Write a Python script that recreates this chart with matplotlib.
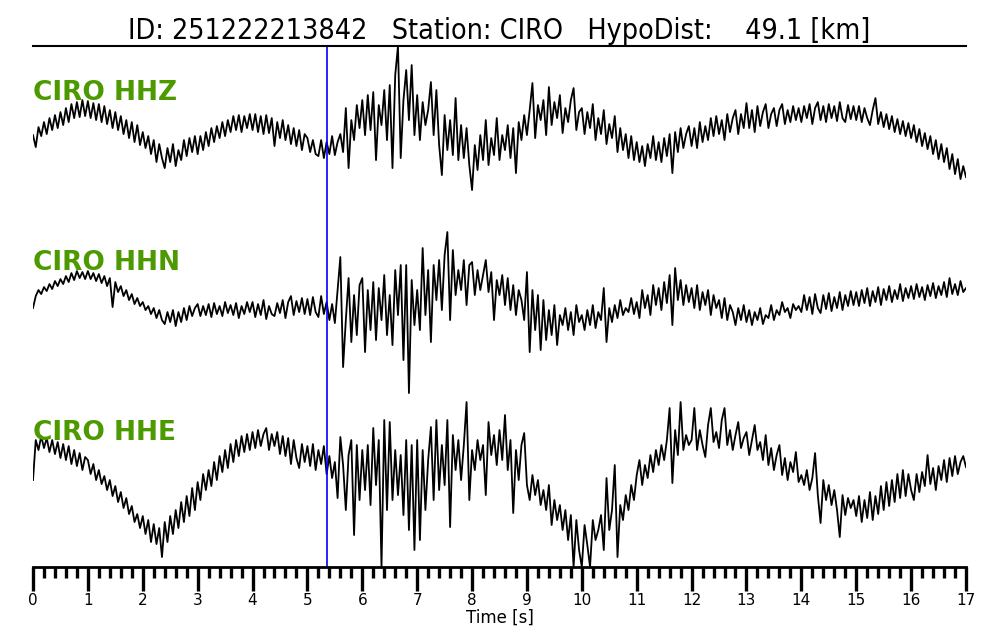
import numpy as np
import matplotlib
matplotlib.use('Agg')
import matplotlib.pyplot as plt
from matplotlib.ticker import MultipleLocator
import matplotlib.transforms as mtransforms

# event info
event_id = '251222213842'
station = 'CIRO'
hypo_dist = 49.1
p_pick = 5.36   # s
dt = 0.05
channels = ['HHZ', 'HHN', 'HHE']

# traces (arbitrary units, 0 = trace baseline)
hhz = [
    -5, -17, 3, -6, 8, -4, 12, 0, 15, 2, 18, 5, 22, 8, 26, 12, 28, 13, 30, 14,
    29, 12, 27, 10, 26, 8, 24, 6, 20, 2, 18, 0, 14, -4, 10, -8, 8, -12, 5, -15,
    -2, -18, -6, -24, -10, -32, -14, -28, -38, -18, -32, -14, -36, -20, -30, -10, -26, -8, -22, -6,
    -24, -6, -20, -2, -16, 2, -12, 4, -8, 8, -6, 10, -2, 14, 0, 15, -2, 14, 2, 16,
    0, 16, -2, 14, -4, 15, -3, 12, -16, 8, -8, 10, -10, 5, -14, 2, -16, 0, -20, -4,
    -8, -22, -10, -24, -26, -10, -28, -12, -24, -6, -25, -12, -4, -22, 22, -38, 10, -10, 25, 2,
    30, -5, 35, 0, 38, -30, 25, 5, 40, -10, 45, -38, 55, 84, -28, 30, 60, 10, 65, -5,
    35, -10, 28, 5, 20, 48, -5, 40, -15, -45, 15, -20, 10, -25, 32, -30, 5, -28, 2, -35,
    -60, -15, -40, -5, -30, 10, -35, -8, -25, 12, -30, -5, -20, 5, -28, 2, -43, 8, -10, 15,
    -5, 20, 47, -8, 25, 10, 30, -5, 43, 5, 28, 12, 35, -3, 22, 8, 30, 42, 0, 18,
    22, -4, 18, 2, 26, -10, 12, -4, 20, -14, 6, -8, 14, -22, 2, -20, -4, -28, -6, -30,
    -12, -32, -16, -36, -14, -28, -6, -30, -12, -32, -8, -26, -4, -43, -2, -22, 2, -18, -4, 4,
    -16, 2, -18, 8, -12, 4, -10, 12, -6, 14, -4, 10, -10, 16, -2, 12, 20, -4, 16, 2,
    27, 2, 20, -2, 24, 4, 18, 26, 2, 16, 22, 4, 20, 26, 6, 20, 8, 24, 10, 22,
    8, 24, 12, 26, 6, 22, 28, 10, 24, 8, 26, 12, 24, 9, 28, 12, 8, 25, 11, 24,
    10, 24, 8, 22, 12, 5, 20, 32, 6, 18, 3, 16, 1, 14, -2, 11, -4, 9, -6, 7,
    -8, 5, -12, 1, -16, -3, -19, -6, -24, -10, -29, -14, -32, -18, -39, -24, -44, -29, -49, -36,
    -47,
]
hhn = [
    -8, 4, 10, 6, 13, 9, 16, 11, 19, 14, 21, 16, 24, 18, 27, 20, 29, 22, 28, 21,
    29, 21, 27, 19, 26, 17, 24, 14, 22, -7, 18, 8, 14, 4, 10, 0, 6, -4, 2, -6,
    -2, -10, -6, -14, -8, -18, -10, -20, -24, -12, -22, -10, -26, -12, -22, -8, -20, -6, -16, -8,
    -4, -16, -6, -15, -4, -17, -3, -14, -6, -16, -2, -13, -5, -15, -3, -18, -6, -14, -2, -12,
    -2, -17, -4, -15, 0, -19, -6, -14, -16, -3, -13, 0, -18, -2, 4, -15, -1, -12, 2, -14,
    1, -15, 3, -12, -17, 4, -14, -2, -20, -4, -23, 10, 43, -67, -20, 22, -42, 5, -35, 15,
    22, -52, 10, -30, 18, -40, 12, -20, 25, -35, 5, -45, 30, -15, 35, -60, 35, -93, 20, -25,
    10, -30, 52, -15, 30, -42, 35, 0, 40, -10, 45, 68, -20, 50, 5, 30, 10, 40, -5, 35,
    38, 5, 30, 10, 25, 40, 8, 28, -20, 20, 5, 25, -5, 22, -10, 15, -15, 10, 0, -20,
    28, -52, 10, -30, 5, -50, 0, -40, -10, -35, -5, -45, -15, -25, -8, -30, -12, -35, -5, -22,
    -15, -30, -10, -25, -5, -28, -12, -20, 12, -42, -8, -22, -5, -18, 0, -15, -8, -12, 2, -14,
    -2, -18, 10, -8, 5, -15, 15, -5, 12, -10, 18, -3, 25, -25, 32, 0, 20, -5, 15, -2,
    12, -8, 15, -10, 8, -5, 10, -15, 5, -8, 0, -18, 2, -20, -5, -12, -25, -8, -20, -5,
    -22, -10, -25, -12, -20, -8, -24, -15, -18, -5, -20, -10, -15, -2, -12, -8, -18, -4, -10, -6,
    -12, 5, -10, 3, -14, 6, -8, -13, 5, -9, 7, -11, 3, -8, 8, -10, 5, -6, 9, -5,
    8, -6, 10, -3, 12, -6, 9, -2, 13, -5, 11, 0, 14, -2, 10, 1, 16, -1, 12, 2,
    14, 1, 16, 3, 13, 0, 15, 4, 17, 2, 14, 5, 18, 3, 22, 6, 16, 5, 19, 8,
    12,
]
hhe = [
    -10, 30, 20, 34, 22, 32, 18, 30, 16, 28, 12, 26, 10, 24, 6, 20, 4, 17, 0, 13,
    10, -4, 6, -10, 0, -14, -6, -20, -10, -26, -16, -32, -22, -38, -28, -44, -36, -52, -44, -58,
    -46, -64, -50, -72, -54, -74, -58, -87, -52, -72, -46, -64, -40, -58, -32, -52, -26, -46, -18, -40,
    -12, -30, -4, -20, 0, -16, 8, -10, 14, -2, 20, 2, 26, 8, 30, 14, 34, 18, 36, 20,
    38, 22, 40, 24, 36, 42, 20, 36, 24, 38, 16, 34, 14, 32, 6, 30, 12, 2, 26, 8,
    24, 4, 26, 0, 20, 6, 24, -4, 14, -8, 8, -28, 33, 5, -40, 15, 30, -65, 25, -30,
    20, -20, 25, -35, 42, -15, 30, -97, 50, -40, 48, -30, 20, -25, 15, -45, 30, -60, 25, -80,
    30, -70, 20, -40, 10, 43, -30, 50, -20, 25, -15, 50, -57, 35, 0, 30, -10, 25, 68, -30,
    20, 0, 30, 10, 25, -25, 48, 15, 35, 5, 40, 10, 55, 0, 30, -43, 20, -10, 25, 37,
    -15, -30, -5, -25, -10, -35, -20, -40, -15, -55, -30, -50, -35, -60, -40, -70, -45, -97, -50, -80,
    -97, -55, -75, -97, -50, -70, -60, -45, -80, -8, -60, -40, 5, -87, -35, -50, -25, -40, -15, -30,
    -5, 10, -15, 5, -8, 15, -2, 20, 5, 25, 10, 30, 62, -13, 40, 15, 68, 20, 35, 25,
    30, 62, 20, 40, 25, 13, 45, 62, 28, 38, 22, 50, 62, 25, 40, 20, 35, 48, 22, 32,
    38, 15, 30, 45, 20, 28, 10, 35, 5, 22, 0, 15, 25, -5, 12, -10, 8, -2, 18, -12,
    -5, -15, 0, -20, -8, 17, -25, -53, -10, -30, -15, -35, -20, -40, -67, -25, -45, -28, -38, -30,
    -46, -26, -52, -30, -48, -22, -50, -26, -44, -16, -40, -12, -36, -10, -32, -4, -28, 0, -26, -4,
    -20, -30, -4, -22, -2, -16, 15, -14, 2, -20, 4, -10, 10, -12, 12, -6, 14, -4, 8, 14,
    3,
]

traces = [hhz, hhn, hhe]
offsets = [170, 0, -170]

fig = plt.figure(figsize=(10, 6.4), dpi=100)
ax = fig.add_axes([0.033, 0.114, 0.933, 0.814])

t = np.arange(len(hhz)) * dt
for tr, off, ch in zip(traces, offsets, channels):
    ax.plot(t, np.array(tr) + off, color='black', lw=1.3)
    ax.text(0.0, off + 24, station + ' ' + ch, color='#4c9a00', fontsize=19,
            fontweight='bold', va='bottom', ha='left',
            transform=mtransforms.blended_transform_factory(ax.transAxes, ax.transData))

ax.axvline(p_pick, color='blue', lw=1.2)

ax.set_xlim(0, 17)
ax.set_ylim(-267, 254)
ax.set_yticks([])
for s in ['left', 'right']:
    ax.spines[s].set_visible(False)
ax.spines['top'].set_linewidth(1.5)
ax.spines['bottom'].set_linewidth(2)

ax.xaxis.set_major_locator(MultipleLocator(1))
ax.xaxis.set_minor_locator(MultipleLocator(0.2))
ax.tick_params(axis='x', which='major', direction='out', length=17, width=2.4, labelsize=11, pad=2)
ax.tick_params(axis='x', which='minor', direction='out', length=8, width=2.4)
ax.set_xlabel('Time [s]', fontsize=12, labelpad=0)

ax.set_title('ID: %s   Station: %s   HypoDist:    %.1f [km]' % (event_id, station, hypo_dist),
             fontsize=20.5, pad=5, fontstretch='condensed')

plt.savefig('out.png', dpi=100)
